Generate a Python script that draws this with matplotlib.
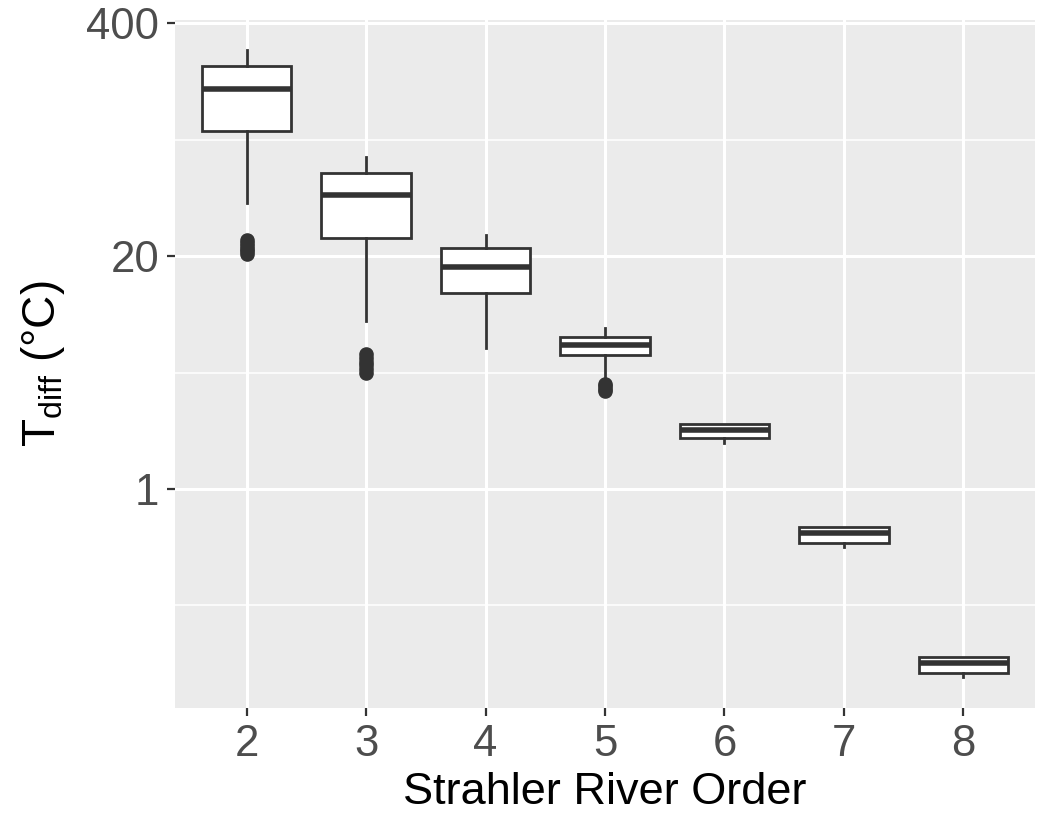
import numpy as np
import matplotlib
matplotlib.use("Agg")
import matplotlib.pyplot as plt
from matplotlib.ticker import FixedLocator, FixedFormatter, NullFormatter

plt.rcParams['font.family'] = ['Liberation Sans', 'DejaVu Sans']
plt.rcParams['mathtext.fontset'] = 'custom'
plt.rcParams['mathtext.rm'] = 'Liberation Sans'

# Data
orders = ["2", "3", "4", "5", "6", "7", "8"]
whislo = [39.5, 8.7, 6.1, 4.2, 1.81, 0.474, 0.089]
q1     = [99.7, 25.2, 12.4, 5.6, 1.93, 0.500, 0.094]
median = [171.0, 43.8, 17.4, 6.37, 2.14, 0.568, 0.107]
q3     = [230.0, 58.1, 22.2, 7.06, 2.31, 0.613, 0.115]
whishi = [283.0, 71.4, 26.2, 7.92, 2.31, 0.613, 0.115]
fliers = [
    [20.5, 21.2, 22.0, 22.8, 23.7, 24.6],
    [4.44, 4.65, 4.9, 5.15, 5.4, 5.67],
    [],
    [3.52, 3.62, 3.74, 3.86],
    [], [], [],
]
y_ticks = [1, 20, 400]
y_minor = [20 ** -0.5, 20 ** 0.5, 20 ** 1.5]

fig = plt.figure(figsize=(10.39, 8.17), dpi=100)
ax = fig.add_axes([175 / 1039, 1 - 708 / 817, 860 / 1039, 688 / 817])
ax.set_facecolor('#EBEBEB')

stats = []
for i, o in enumerate(orders):
    stats.append(dict(label=o, whislo=whislo[i], q1=q1[i], med=median[i],
                      q3=q3[i], whishi=whishi[i], fliers=fliers[i]))

pos = np.arange(1, len(orders) + 1)
edge = '#333333'
ax.bxp(stats, positions=pos, widths=0.75, patch_artist=True, showcaps=False,
       boxprops=dict(facecolor='white', edgecolor=edge, linewidth=2.0),
       medianprops=dict(color=edge, linewidth=4.0, solid_capstyle='butt'),
       whiskerprops=dict(color=edge, linewidth=2.0),
       flierprops=dict(marker='o', markerfacecolor=edge, markeredgecolor=edge,
                       markersize=9.5, linestyle='none'),
       zorder=3)

ax.set_yscale('log')
ax.set_ylim(10 ** (-1.223), 10 ** 2.619)
ax.set_xlim(0.4, len(orders) + 0.6)
ax.yaxis.set_major_locator(FixedLocator(y_ticks))
ax.yaxis.set_major_formatter(FixedFormatter([str(t) for t in y_ticks]))
ax.yaxis.set_minor_locator(FixedLocator(y_minor))
ax.yaxis.set_minor_formatter(NullFormatter())
ax.set_xticks(pos)
ax.set_xticklabels(orders)

ax.grid(which='major', color='white', linewidth=2.2, zorder=0)
ax.grid(which='minor', axis='y', color='white', linewidth=1.1, zorder=0)
ax.set_axisbelow(True)
for s in ax.spines.values():
    s.set_visible(False)

ax.tick_params(which='major', length=5.8, width=1.6, color='#333333',
               labelsize=31.5, labelcolor='#4D4D4D', pad=5.5)
ax.tick_params(which='minor', length=0)

ax.set_xlabel('Strahler River Order', fontsize=32.5, color='black', labelpad=5)
ax.set_ylabel(r'T$_{\mathregular{diff}}$ (°C)', fontsize=33, color='black', labelpad=14)

fig.savefig('out.png', dpi=100)
